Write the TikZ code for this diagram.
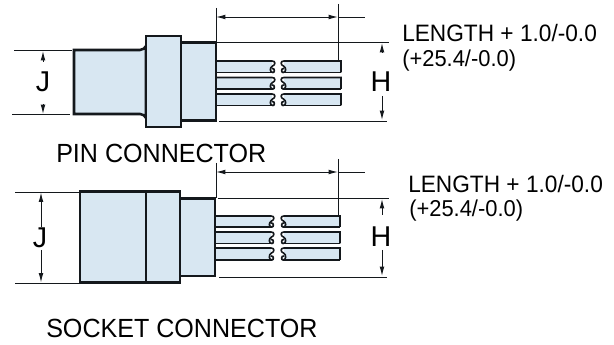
\documentclass[tikz,border=0pt]{standalone}
\usepackage{fontspec}
\usepackage{graphicx}
\setmainfont{Liberation Sans}
\usetikzlibrary{arrows.meta}
\definecolor{bodyblue}{RGB}{216,231,242}
\definecolor{inkline}{RGB}{20,24,28}
\newcommand{\tightx}[1]{\scalebox{0.955}[1]{#1}}
\tikzset{
  part/.style={draw=inkline,fill=bodyblue,line width=1.9pt,line join=miter},
  wirefill/.style={fill=bodyblue},
  wirepart/.style={draw=inkline,line width=1.2pt},
  dimline/.style={draw=inkline,line width=0.7pt},
  dimarrow/.style={draw=inkline,line width=0.7pt,{Latex[length=7pt,width=3.5pt]}-{Latex[length=7pt,width=3.5pt]}},
  onearrow/.style={draw=inkline,line width=0.7pt,-{Latex[length=7pt,width=3.5pt]}},
  lbl/.style={inner sep=0pt,anchor=base west,text=black,font=\fontsize{19.7}{22}\selectfont},
  lenlbl/.style={inner sep=0pt,anchor=base west,text=black,font=\fontsize{17.8}{20}\selectfont},
  lblb/.style={inner sep=0pt,anchor=base west,text=black,font=\fontsize{17.2}{20}\selectfont},
  dimlbl/.style={inner sep=0pt,text=black,font=\fontsize{21.5}{24}\selectfont}
}
% #1 top y, #2 bottom y, #3 start x, #4 left end x, #5 right start x, #6 right end x
\newcommand{\wirepair}[6]{%
  \path[wirefill] (#3,#1) -- (#4,#1) -- (#4,#2) -- (#3,#2) -- cycle;
  \path[wirefill] (#5,#1) -- (#6,#1) -- (#6,#2) -- (#5,#2) -- cycle;
  \path[wirepart] (#3,#1) -- (#4,#1)
    .. controls (#4+4,#1) and (#4+3.5,{#1+4}) .. (#4+0.5,{#1+5})
    .. controls (#4-2.5,{#1+6.5}) and (#4-2.5,#2) .. (#4+1,#2)
    .. controls (#4+3,#2) and (#4+3,{#2-4.5}) .. (#4,{#2-4});
  \path[wirepart] (#4+1,#2) -- (#3,#2);
  \path[wirepart] (#6,#2) -- (#6,#1) -- (#5,#1)
    .. controls (#5-4,#1) and (#5-3.5,{#1+4}) .. (#5-0.5,{#1+5})
    .. controls (#5+2.5,{#1+6.5}) and (#5+2.5,#2) .. (#5-1,#2)
    .. controls (#5-3,#2) and (#5-3,{#2-4.5}) .. (#5,{#2-4});
  \path[wirepart] (#5-1,#2) -- (#6,#2);
}
\begin{document}
\begin{tikzpicture}[x=0.75pt,y=-0.75pt]
\useasboundingbox (0,0) rectangle (614,345);
%--- PIN
\draw[dimline] (216,8) -- (216,42);
\draw[dimline] (338,4) -- (338,60);
\draw[dimarrow] (216,17) -- (338,17);
\draw[dimline] (338,17) -- (365,17);
\draw[dimline] (216,42) -- (389,42);
\draw[dimline] (219,121.5) -- (387,121.5);
\draw[dimline] (14,50.5) -- (72,50.5);
\draw[dimline] (12,114) -- (70,114);
\wirepair{61}{72.5}{216}{272}{284}{341}
\wirepair{77.5}{89}{216}{272}{284}{341}
\wirepair{94}{105.5}{216}{272}{284}{341}
\path[part] (74,50) -- (140,50) .. controls (143,50) and (145,48) .. (146,46)
  -- (146,118) .. controls (145,116) and (143,114) .. (140,114) -- (74,114) -- cycle;
\path[part] (181,42.5) rectangle (216,120.5);
\path[part] (146,36) rectangle (181,127);
\draw[onearrow] (43,62) -- (43,51);
\draw[onearrow] (43,104) -- (43,114);
\node[dimlbl] (jpin) at (43,82) {J};
\draw[onearrow] (382,52) -- (382,43);
\draw[onearrow] (382,96) -- (382,120);
\node[dimlbl] (hpin) at (381,82) {H};
\node[lenlbl] (lenpin) at (402,42) {\tightx{LENGTH + 1.0/-0.0}};
\node[lblb] (mmpin) at (402,67) {\tightx{(+25.4/-0.0)}};
\node[lbl] (titlepin) at (56,163) {\tightx{PIN CONNECTOR}};
%--- SOCKET
\draw[dimline] (216,163) -- (216,198);
\draw[dimline] (338,159) -- (338,215);
\draw[dimarrow] (216,172) -- (338,172);
\draw[dimline] (338,172) -- (365,172);
\draw[dimline] (218,198) -- (389,198);
\draw[dimline] (219,277) -- (387,277);
\draw[dimline] (15,192) -- (80,192);
\draw[dimline] (15,283) -- (80,283);
\wirepair{216}{227}{215}{271}{284}{340}
\wirepair{232}{243.5}{215}{271}{284}{340}
\wirepair{248}{260}{215}{271}{284}{340}
\path[part] (180,198.5) rectangle (215,276);
\path[part] (80,191.5) rectangle (180,282.5);
\draw[part,fill=none] (146,191.5) -- (146,282.5);
\draw[onearrow] (41,227) -- (41,192.5);
\draw[onearrow] (41,250) -- (41,282.5);
\node[dimlbl] (jsock) at (40,238) {J};
\draw[onearrow] (382,215) -- (382,199);
\draw[onearrow] (382,250) -- (382,276);
\node[dimlbl] (hsock) at (381,237) {H};
\node[lenlbl] (lensock) at (408,193) {\tightx{LENGTH + 1.0/-0.0}};
\node[lblb] (mmsock) at (409,217) {\tightx{(+25.4/-0.0)}};
\node[lbl] (titlesock) at (46,338) {\tightx{SOCKET CONNECTOR}};
\end{tikzpicture}
\end{document}
